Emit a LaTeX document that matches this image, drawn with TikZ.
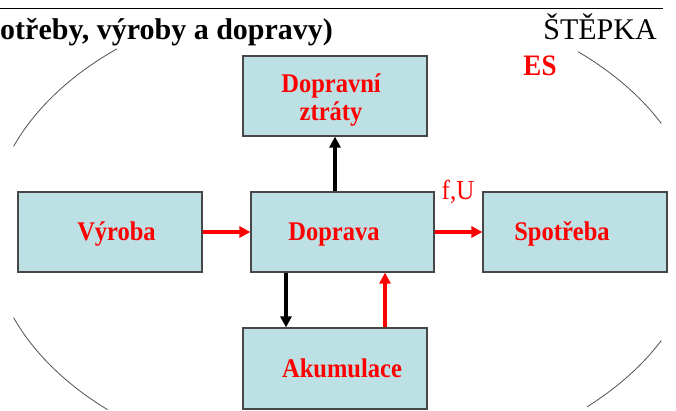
\documentclass[tikz,border=0pt]{standalone}
\usepackage{fontspec}
\setmainfont{Liberation Serif}
\usetikzlibrary{arrows.meta}
\definecolor{boxc}{RGB}{188,224,227}
\definecolor{arcc}{RGB}{80,80,80}
\newcommand{\vstr}[1]{\scalebox{1}[1.1]{#1}}
\begin{document}
\begin{tikzpicture}[x=1pt,y=-1pt,
  box/.style={rectangle,draw=black!72,line width=1.2pt,fill=boxc,inner sep=0pt,minimum width=184pt,minimum height=80pt},
  lbl/.style={text=red,font=\bfseries\fontsize{24.5}{28}\selectfont,inner sep=0pt},
  redarr/.style={draw=red,line width=3.5pt,-{Triangle[length=11pt,width=11pt]}},
  blkarr/.style={draw=black,line width=3.5pt,-{Triangle[length=11pt,width=11pt]}},
  arcline/.style={draw=arcc,line width=0.8pt}]
\useasboundingbox (0,0) rectangle (676,410);
% top rule and header
\draw[line width=1pt] (0,8) coordinate (r1) -- (663,8) coordinate (r2);
\node[anchor=base west,inner sep=0pt,font=\bfseries\fontsize{30}{34}\selectfont] (title) at (0,39) {otřeby, výroby a dopravy)};
\node[anchor=base,inner sep=0pt,font=\fontsize{30}{34}\selectfont] (author) at (600,39) {ŠTĚPKA};
% ellipse arcs
\draw[arcline] plot[domain=201:230,samples=40] ({345+355*cos(\x)},{232+239*sin(\x)});
\draw[arcline] plot[domain=132:159,samples=40] ({345+355*cos(\x)},{232+239*sin(\x)});
\draw[arcline] plot[domain=311:333,samples=40] ({345+355*cos(\x)},{232+239*sin(\x)});
\draw[arcline] plot[domain=27:47,samples=40] ({345+355*cos(\x)},{232+239*sin(\x)});
% boxes
\node[box] (ztr) at (335,96) {};
\node[box] (vyr) at (110,232) {};
\node[box,minimum width=183pt] (dop) at (342.5,232) {};
\node[box] (spo) at (575,232) {};
\node[box,minimum height=81pt] (aku) at (335,368.5) {};
% labels
\node[lbl,align=center,anchor=base] (tztr) at (331,120) {\vstr{Dopravní}\\\vstr{ztráty}};
\node[lbl,anchor=base] (tvyr) at (116.5,240) {\vstr{Výroba}};
\node[lbl,anchor=base] (tdop) at (334,240) {\vstr{Doprava}};
\node[lbl,anchor=base] (tspo) at (562,240) {\vstr{Spotřeba}};
\node[lbl,anchor=base] (taku) at (342,377) {\vstr{Akumulace}};
\node[text=red,inner sep=0pt,anchor=base,font=\fontsize{25}{28}\selectfont] (fu) at (458,199) {\vstr{f,U}};
\node[text=red,inner sep=0pt,anchor=base,font=\bfseries\fontsize{27}{30}\selectfont] (es) at (540,75) {\vstr{ES}};
% connectors
\draw[redarr] (vyr.east) -- (dop.west);
\draw[redarr] (dop.east) -- (spo.west);
\draw[blkarr] (ztr.south |- dop.north) -- (ztr.south);
\draw[blkarr] ([xshift=-56.5pt]dop.south) -- ([xshift=-56.5pt]dop.south |- aku.north);
\draw[redarr] ([xshift=50pt]aku.north) -- ([xshift=50pt]aku.north |- dop.south);
\end{tikzpicture}
\end{document}
